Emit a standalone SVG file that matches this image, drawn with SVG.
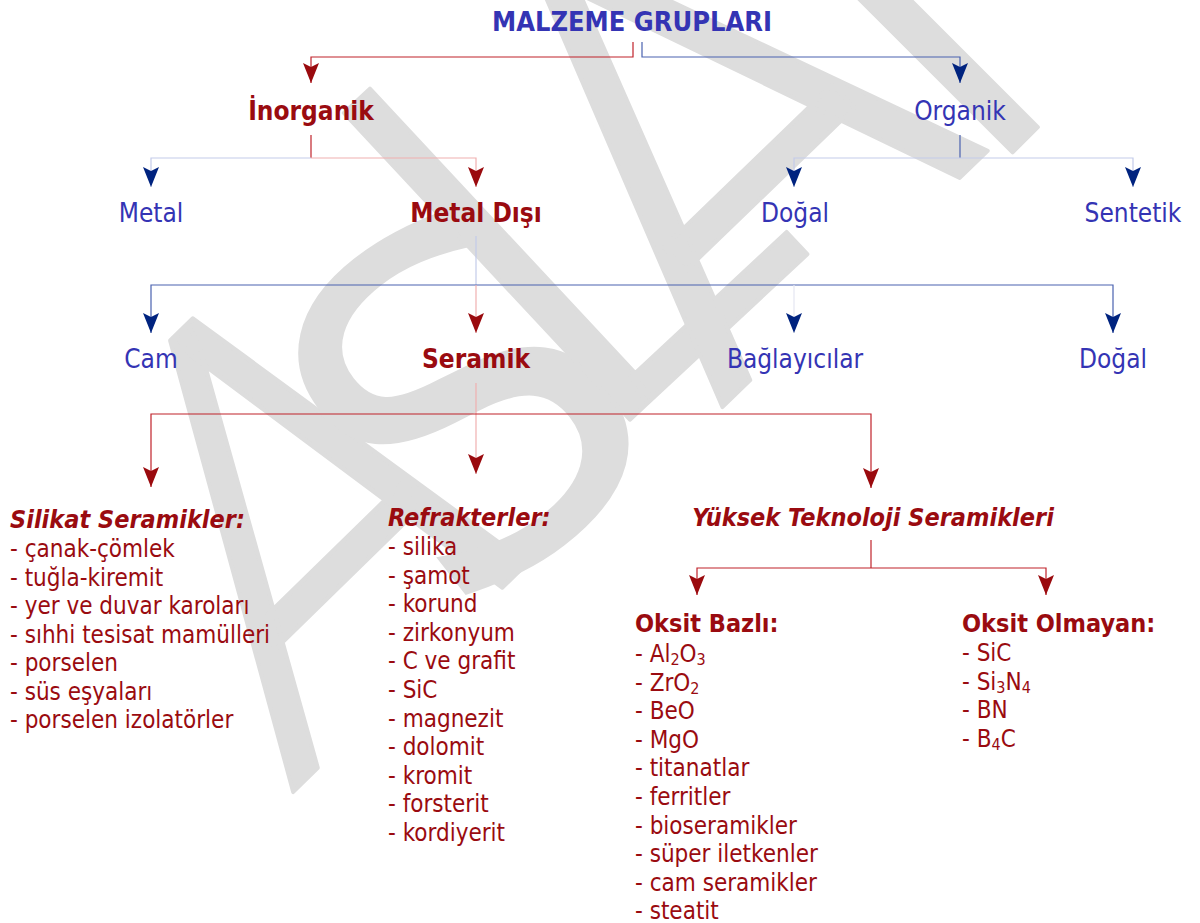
<svg xmlns="http://www.w3.org/2000/svg" width="1200" height="923" viewBox="0 0 1200 923">
<style>
text{font-family:"DejaVu Sans Condensed","DejaVu Sans",sans-serif}
.wm{font-family:Roboto,"Liberation Sans",sans-serif;font-weight:300;fill:#dddddd;stroke:#dddddd;stroke-width:4;stroke-linejoin:round}
.b{fill:#3434b4;font-size:26px}
.bt{fill:#3434b4;font-size:27px;font-weight:bold}
.rb{fill:#9a0b10;font-weight:bold;font-size:26px}
.h{fill:#9a0b10;font-weight:bold;font-style:italic;font-size:25px}
.hb{fill:#9a0b10;font-weight:bold;font-size:25px}
.li{fill:#9a0b10;font-size:24px}
.c{text-anchor:middle}
.lr{fill:none;stroke:#c0222a;stroke-width:1.2}
.lb{fill:none;stroke:#4a62b0;stroke-width:1.2}
.llb{fill:none;stroke:#c3cbea;stroke-width:1.2}
.llr{fill:none;stroke:#f0b0b0;stroke-width:1.2}
.ar{marker-end:url(#mr)}
.ab{marker-end:url(#mb)}
</style>
<defs>
<marker id="mr" markerUnits="userSpaceOnUse" markerWidth="20" markerHeight="16" refX="20" refY="8" orient="auto"><path d="M0,0 L20,8 L0,16 L4,8 z" fill="#9a0a0e"/></marker>
<marker id="mb" markerUnits="userSpaceOnUse" markerWidth="20" markerHeight="16" refX="20" refY="8" orient="auto"><path d="M0,0 L20,8 L0,16 L4,8 z" fill="#00237f"/></marker>
</defs>
<rect width="1200" height="923" fill="#ffffff"/>
<g id="watermark">
<text class="wm c" font-size="100" style="stroke-width:0.8" transform="matrix(3.929,-3.839,3.214,4.893,410,677.5)">A</text>
<text class="wm c" font-size="470" style="font-family:'DejaVu Sans',sans-serif;font-weight:normal;stroke-width:0" transform="translate(567,535) rotate(-38)">S</text>
<text class="wm" font-size="590" transform="translate(591,456) rotate(-43)">L</text>
<text class="wm c" font-size="620" transform="translate(855,279) rotate(-44)">A</text>
<text class="wm" font-size="590" transform="translate(975,190) rotate(-45)">N</text>
</g>
<g id="connectors">
<path class="lr ar" d="M633,42 V57 H311 V83"/>
<path class="lb ab" d="M642,42 V57 H960 V83"/>
<path class="lr" d="M311,135 V158"/>
<path class="llb ab" d="M311,158 H151 V187"/>
<path class="llr ar" d="M311,158 H476 V187"/>
<path class="lb" d="M960,135 V158"/>
<path class="llb ab" d="M960,158 H794 V187"/>
<path class="llb ab" d="M960,158 H1133 V187"/>
<path class="llb" d="M476,236 V285"/>
<path class="lb ab" d="M476,285 H151 V333"/>
<path class="lb ab" d="M476,285 H1113 V333"/>
<path class="llr ar" d="M476,285 V333"/>
<path fill="none" stroke="#e4e6f2" stroke-width="1.2" class="ab" d="M794,285 V333"/>
<path class="llr ar" d="M476,383 V474"/>
<path class="lr ar" d="M476,414 H151 V487"/>
<path class="lr ar" d="M476,414 H871 V488"/>
<path class="lr" d="M871,540 V568"/>
<path class="lr ar" d="M871,568 H697 V595"/>
<path class="lr ar" d="M871,568 H1046 V595"/>
</g>
<g id="n-root"><text class="bt c" x="632" y="31">MALZEME GRUPLARI</text></g>
<g id="n-inorganik"><text class="rb c" x="311" y="120" font-size="27">İnorganik</text></g>
<g id="n-organik"><text class="b c" x="960" y="120">Organik</text></g>
<g id="n-metal"><text class="b c" x="151" y="222">Metal</text></g>
<g id="n-metaldisi"><text class="rb c" x="476" y="222">Metal Dışı</text></g>
<g id="n-dogal1"><text class="b c" x="795" y="222">Doğal</text></g>
<g id="n-sentetik"><text class="b c" x="1133" y="222">Sentetik</text></g>
<g id="n-cam"><text class="b c" x="151" y="368">Cam</text></g>
<g id="n-seramik"><text class="rb c" x="476" y="368">Seramik</text></g>
<g id="n-baglayici"><text class="b c" x="795" y="368">Bağlayıcılar</text></g>
<g id="n-dogal2"><text class="b c" x="1113" y="368">Doğal</text></g>
<g id="n-silikat">
<text class="h" x="10" y="528">Silikat Seramikler:</text>
<text class="li" x="10" y="557">- çanak-çömlek</text>
<text class="li" x="10" y="585.5">- tuğla-kiremit</text>
<text class="li" x="10" y="614">- yer ve duvar karoları</text>
<text class="li" x="10" y="642.5">- sıhhi tesisat mamülleri</text>
<text class="li" x="10" y="671">- porselen</text>
<text class="li" x="10" y="699.5">- süs eşyaları</text>
<text class="li" x="10" y="728">- porselen izolatörler</text>
</g>
<g id="n-refrakter">
<text class="h" x="388" y="526">Refrakterler:</text>
<text class="li" x="388" y="555">- silika</text>
<text class="li" x="388" y="583.6">- şamot</text>
<text class="li" x="388" y="612.2">- korund</text>
<text class="li" x="388" y="640.8">- zirkonyum</text>
<text class="li" x="388" y="669.4">- C ve grafit</text>
<text class="li" x="388" y="698">- SiC</text>
<text class="li" x="388" y="726.6">- magnezit</text>
<text class="li" x="388" y="755.2">- dolomit</text>
<text class="li" x="388" y="783.8">- kromit</text>
<text class="li" x="388" y="812.4">- forsterit</text>
<text class="li" x="388" y="841">- kordiyerit</text>
</g>
<g id="n-yuksek"><text class="h c" x="873" y="526">Yüksek Teknoloji Seramikleri</text></g>
<g id="n-oksitbazli">
<text class="hb" x="635" y="632">Oksit Bazlı:</text>
<text class="li" x="635" y="662">- Al<tspan font-size="16" dy="3">2</tspan><tspan dy="-3">O</tspan><tspan font-size="16" dy="3">3</tspan></text>
<text class="li" x="635" y="690.6">- ZrO<tspan font-size="16" dy="3">2</tspan></text>
<text class="li" x="635" y="719.2">- BeO</text>
<text class="li" x="635" y="747.8">- MgO</text>
<text class="li" x="635" y="776.4">- titanatlar</text>
<text class="li" x="635" y="805">- ferritler</text>
<text class="li" x="635" y="833.6">- bioseramikler</text>
<text class="li" x="635" y="862.2">- süper iletkenler</text>
<text class="li" x="635" y="890.8">- cam seramikler</text>
<text class="li" x="635" y="919.4">- steatit</text>
</g>
<g id="n-oksitolmayan">
<text class="hb" x="962" y="632">Oksit Olmayan:</text>
<text class="li" x="962" y="661">- SiC</text>
<text class="li" x="962" y="689.6">- Si<tspan font-size="16" dy="3">3</tspan><tspan dy="-3">N</tspan><tspan font-size="16" dy="3">4</tspan></text>
<text class="li" x="962" y="718.2">- BN</text>
<text class="li" x="962" y="746.8">- B<tspan font-size="16" dy="3">4</tspan><tspan dy="-3">C</tspan></text>
</g>
</svg>
